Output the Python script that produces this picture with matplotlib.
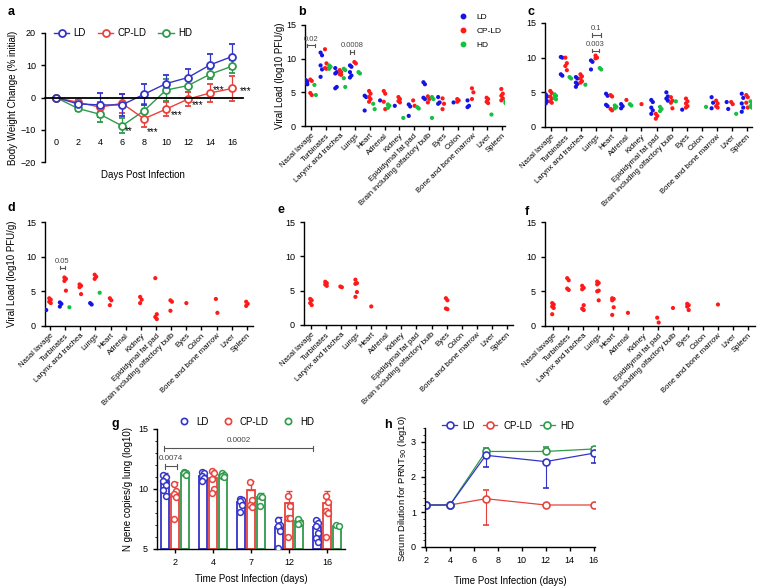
import matplotlib
matplotlib.use('Agg')
import matplotlib.pyplot as plt
import numpy as np
from matplotlib.lines import Line2D
from matplotlib.ticker import MultipleLocator

plt.rcParams['font.family'] = ['Liberation Sans', 'DejaVu Sans']
plt.rcParams['axes.linewidth'] = 1.0
plt.rcParams['xtick.major.width'] = 1.0
plt.rcParams['ytick.major.width'] = 1.0

# ---------------- data ----------------
groups = ["LD", "CP-LD", "HD"]

# panel a
days = [0, 2, 4, 6, 8, 10, 12, 14, 16]
a_LD = [0, -2.0, -2.3, -2.3, 1.0, 4.3, 6.2, 10.1, 12.7]
a_LD_err = [0, 0.5, 3.8, 3.5, 3.3, 2.7, 2.6, 3.4, 4.0]
a_CP = [0, -1.5, -3.0, -1.8, -6.6, -3.6, -0.5, 1.4, 2.8]
a_CP_err = [0, 0.8, 1.5, 3.0, 2.7, 2.1, 2.2, 2.8, 4.0]
a_HD = [0, -3.4, -5.2, -8.8, -4.1, 2.3, 3.7, 7.2, 9.7]
a_HD_err = [0, 0.8, 2.5, 2.3, 2.0, 3.5, 2.0, 1.5, 2.0]
a_star_x = [6.6, 8.8, 10.95, 12.9, 14.75, 17.2]
a_star_y = [-9.4, -9.8, -4.6, -1.4, 3.2, 2.9]
a_star_txt = ["**", "***", "***", "***", "***", "***"]

organs = ["Nasal lavage", "Turbinates", "Larynx and trachea", "Lungs", "Heart",
          "Adrenal", "Kidney", "Epididymal fat pad", "Brain including olfactory bulb",
          "Eyes", "Colon", "Bone and bone marrow", "Liver", "Spleen"]

b_LD = [[6.8, 6.6, 6.4, 6.2], [10.9, 10.5, 9.0, 8.4, 7.3], [8.6, 8.0, 7.8, 5.8, 5.6],
        [9.0, 8.8, 8.0, 7.5, 7.2], [4.5, 4.3, 2.3], [3.8], [3.0], [3.2, 2.9, 1.5],
        [6.5, 6.2, 4.2, 4.0], [4.3, 3.5, 3.3], [3.5], [3.8, 3.0, 2.8], [], []]
b_CP = [[6.9, 6.7, 4.9, 4.6], [11.4, 9.3, 8.6, 8.5], [8.3, 8.0, 7.7, 7.6], [9.5, 9.3],
        [5.2, 4.8, 4.3, 4.0, 3.6], [5.2, 4.8, 3.6, 2.5], [4.3, 4.0, 3.7, 3.5], [3.8, 3.0],
        [4.4, 4.0, 3.5], [4.1, 3.3, 2.5], [4.0, 3.8, 3.6], [5.6, 5.0, 4.0],
        [4.2, 4.0, 3.6, 3.4], [5.5, 4.8, 4.5, 4.1, 3.8]]
b_HD = [[6.1, 4.6], [9.0, 8.8, 8.5], [8.5, 8.3, 7.1, 5.8], [8.0, 7.8], [3.3, 2.5],
        [3.2, 3.0, 2.7], [1.2], [2.8, 2.6], [4.3, 4.0, 1.2], [], [], [], [1.7],
        [3.7, 3.5, 3.4]]
b_sig_x1 = [-0.3, 2.66]
b_sig_x2 = [0.27, 2.93]
b_sig_y = [12.0, 11.0]
b_sig_txt = ["0.02", "0.0008"]

c_LD = [[4.7, 4.4, 4.0, 3.7, 3.4], [10.1, 10.0, 7.6, 7.4], [7.2, 7.0, 6.4, 6.2, 5.8],
        [9.6, 9.4, 8.3], [4.8, 4.5, 3.2, 3.0], [3.3, 3.0, 2.7], [],
        [3.9, 3.6, 2.8, 2.4, 1.9], [5.0, 4.4, 4.1, 3.8], [2.5], [], [4.3, 3.5, 2.7],
        [3.6, 2.6], [4.8, 4.2, 3.4, 2.8, 2.2]]
c_CP = [[5.2, 4.9, 4.4, 4.1, 3.7, 3.5], [10.0, 9.2, 8.8, 8.2], [7.6, 7.3, 7.0, 6.6, 6.4],
        [10.3, 10.0, 9.9], [4.6, 4.4, 2.6, 2.4], [3.9], [3.3], [1.9, 1.6, 1.2],
        [4.3, 3.8, 3.5, 2.7], [4.1, 3.7, 3.4, 3.0, 2.8], [], [3.8, 3.4, 3.0, 2.8],
        [3.6, 3.3], [4.6, 4.3, 3.5, 2.8]]
c_HD = [[4.7, 4.5, 4.2, 4.0], [7.2, 7.0], [6.1], [8.5, 8.3], [3.1, 2.9, 2.7], [3.3, 3.1],
        [], [2.9, 2.6, 2.3], [3.7], [], [2.9], [], [1.9], [3.7, 3.3, 3.0, 2.8]]
c_sig_x1 = [2.69, 2.69]
c_sig_x2 = [3.33, 3.15]
c_sig_y = [13.3, 11.0]
c_sig_txt = ["0.1", "0.003"]

d_LD = [[2.4, 2.3], [3.4, 3.2, 2.8], [], [3.3, 3.1], [], [], [], [], [], [], [], [], [], []]
d_CP = [[4.0, 3.8, 3.5, 3.3], [7.0, 6.8, 6.5, 5.1], [6.0, 5.8, 5.6, 4.6], [7.4, 7.1, 6.8],
        [4.0, 3.7, 3.0], [], [4.2, 3.8, 3.3], [6.9, 1.7, 1.3, 1.0], [3.7, 3.5, 2.2],
        [3.3], [], [3.9, 1.9], [], [3.5, 3.2, 2.9]]
d_HD = [[], [2.7], [], [4.8], [], [], [], [], [], [], [], [], [], []]
d_sig_x1 = [0.65]
d_sig_x2 = [1.0]
d_sig_y = [8.4]
d_sig_txt = ["0.05"]

e_CP = [[3.8, 3.6, 3.2, 2.9], [6.3, 6.1, 5.9, 5.7], [5.6, 5.5], [6.6, 6.1, 6.0, 4.8, 4.1],
        [2.7], [], [], [], [], [3.9, 3.6, 2.4, 2.3], [], [], [], []]
f_CP = [[3.3, 3.1, 2.8, 2.6, 1.7], [6.9, 6.6, 5.4, 5.2], [5.8, 5.5, 5.3, 3.0, 2.5, 2.3],
        [6.4, 6.2, 6.0, 5.1, 5.0, 3.7], [4.0, 3.9, 3.7, 2.7, 1.6], [1.9], [],
        [1.2, 0.5], [2.6], [3.2, 3.0, 2.8, 2.3], [], [3.1], [], []]

# panel g
g_times = ["2", "4", "7", "12", "16"]
g_LD_pts = [[11.2, 11.0, 10.7, 10.3, 9.9, 9.4], [11.4, 11.3, 11.1, 10.9, 10.7],
            [9.2, 9.1, 9.0, 8.7, 8.1], [7.4, 7.0, 6.9, 6.5, 5.1],
            [7.4, 7.2, 6.9, 6.3, 5.9, 5.6]]
g_CP_pts = [[10.4, 9.8, 9.6, 9.3, 7.5], [11.5, 11.3, 10.8, 10.0, 9.7],
            [10.6, 9.1, 8.7, 8.5], [9.4, 8.6, 7.6, 7.6, 6.0], [9.4, 8.9, 8.2, 8.0, 6.0]]
g_HD_pts = [[11.4, 11.3, 11.3, 11.2], [11.3, 11.2, 11.1, 11.0], [9.4, 9.3, 8.6],
            [7.5, 7.2, 7.1], [7.0, 6.9]]
g_LD_mean = [10.7, 11.1, 8.9, 6.8, 6.8]
g_CP_mean = [9.6, 10.9, 9.9, 8.8, 8.8]
g_HD_mean = [11.3, 11.2, 9.3, 7.3, 6.9]
g_LD_sd = [0.6, 0.3, 0.4, 0.9, 0.7]
g_CP_sd = [1.0, 0.7, 0.8, 1.0, 1.0]
g_HD_sd = [0.1, 0.1, 0.4, 0.2, 0.1]
g_sig_x1 = [-0.27, -0.28]
g_sig_x2 = [0.06, 3.64]
g_sig_y = [11.9, 13.4]
g_sig_txt = ["0.0074", "0.0002"]

# panel h
h_days = [2, 4, 7, 12, 16]
h_LD = [1.2, 1.2, 2.62, 2.44, 2.68]
h_LD_lo = [0, 0, 0.32, 0.76, 0.28]
h_CP = [1.2, 1.2, 1.38, 1.2, 1.2]
h_CP_lo = [0, 0, 0.74, 0, 0]
h_CP_hi = [0, 0, 0.25, 0, 0]
h_HD = [1.2, 1.2, 2.73, 2.73, 2.80]
h_HD_hi = [0, 0, 0.11, 0.12, 0.05]

# ---------------- style ----------------
cL = ['#3434c8', '#e8423c', '#2f9a4c']          # line panels
cS = ['#1414e6', '#ff1a1a', '#16c040']          # scatter panels
W, H = 763, 588
fig = plt.figure(figsize=(W / 100, H / 100), dpi=100)

def add_ax(l, t, r, b):
    return fig.add_axes([l / W, 1 - b / H, (r - l) / W, (b - t) / H])

def clean(ax):
    ax.spines['top'].set_visible(False)
    ax.spines['right'].set_visible(False)

def letter(x, y, s):
    fig.text(x / W, 1 - y / H, s, fontsize=9, fontweight='bold', va='center', ha='left')

def bracket(ax, x1, x2, y, txt, cap=0.25, fs=5.5, dy=0.9):
    ax.plot([x1, x2], [y, y], color='#555555', lw=0.8)
    ax.plot([x1, x1], [y - cap, y + cap], color='#555555', lw=0.8)
    ax.plot([x2, x2], [y - cap, y + cap], color='#555555', lw=0.8)
    ax.text((x1 + x2) / 2, y + dy, txt, ha='center', va='center', fontsize=fs, color='#444444')

# ---------------- panel a ----------------
ax = add_ax(45, 33, 243, 162)
clean(ax)
for vals, err, c, lab in zip([a_HD, a_CP, a_LD], [a_HD_err, a_CP_err, a_LD_err],
                             [cL[2], cL[1], cL[0]], ["HD", "CP-LD", "LD"]):
    ax.errorbar(days, vals, yerr=err, color=c, marker='o', ms=5, mfc='white', mec=c,
                mew=1.3, lw=1.0, capsize=2, elinewidth=0.9, label=lab)
ax.set_xlim(-1, 17)
ax.set_ylim(-20, 20)
ax.spines['bottom'].set_position(('data', 0))
ax.spines['bottom'].set_linewidth(1.3)
ax.set_xticks(days)
ax.tick_params(axis='x', length=0, pad=29, labelsize=6.5)
ax.set_yticks([-20, -10, 0, 10, 20])
ax.tick_params(axis='y', length=3, labelsize=6.5)
for x, y, t in zip(a_star_x, a_star_y, a_star_txt):
    ax.text(x, y - 0.9, t, ha='center', va='center', fontsize=7)
ax.set_ylabel("Body Weight Change (% initial)", fontsize=7)
ax.yaxis.set_label_coords(-0.136, 0.5)
ax.set_xlabel("Days Post Infection", fontsize=7)
ax.xaxis.set_label_coords(0.495, -0.06)
h_a = [Line2D([0], [0], color=c, marker='o', ms=5, mfc='white', mec=c, mew=1.3, lw=1.0)
       for c in cL]
ax.legend(h_a, groups, loc='center left', bbox_to_anchor=(0.0, 1.0), ncol=3, frameon=False,
          fontsize=7, handlelength=1.6, columnspacing=1.2, handletextpad=0.45)
letter(8, 12, "a")

# ---------------- organ panels ----------------
def organ_panel(ax, series, offs, cols, xlim, ylabel=False):
    clean(ax)
    for ser, off, c in zip(series, offs, cols):
        for i, vals in enumerate(ser):
            n = len(vals)
            xs = [i + off + (0.05 if k % 2 else -0.05) * (1 if n > 1 else 0) for k in range(n)]
            ax.scatter(xs, vals, s=9, color=c, edgecolors='none', zorder=3)
    ax.set_xlim(*xlim)
    ax.set_ylim(0, 15)
    ax.set_yticks([0, 5, 10, 15])
    ax.set_xticks(range(len(organs)))
    ax.set_xticklabels(organs, rotation=45, ha='right', rotation_mode='anchor', fontsize=5.6)
    ax.tick_params(axis='x', length=3, pad=1.5)
    ax.tick_params(axis='y', length=3, labelsize=6.5)
    if ylabel:
        ax.set_ylabel("Viral Load (log10 PFU/g)", fontsize=7)

ax = add_ax(305, 25, 505, 126)
organ_panel(ax, [b_LD, b_CP, b_HD], [-0.3, 0.0, 0.28], cS, (-0.41, 13.2), ylabel=True)
ax.yaxis.set_label_coords(-0.1, 0.5)
for x1, x2, y, t in zip(b_sig_x1, b_sig_x2, b_sig_y, b_sig_txt):
    bracket(ax, x1, x2, y, t)
h_b = [Line2D([0], [0], color=c, marker='o', ms=3.2, lw=0) for c in cS]
ax.legend(h_b, groups, loc='upper left', bbox_to_anchor=(0.71, 1.19), frameon=False,
          fontsize=6, handletextpad=0.6, labelspacing=0.75)
letter(298, 12, "b")

ax = add_ax(545, 23, 752, 127)
organ_panel(ax, [c_LD, c_CP, c_HD], [-0.3, 0.0, 0.28], cS, (-0.4, 13.33))
for x1, x2, y, t in zip(c_sig_x1, c_sig_x2, c_sig_y, c_sig_txt):
    bracket(ax, x1, x2, y, t)
letter(527, 12, "c")

ax = add_ax(45, 222, 253, 326)
organ_panel(ax, [d_LD, d_CP, d_HD], [-0.3, 0.0, 0.28], cS, (-0.33, 13.4), ylabel=True)
ax.yaxis.set_label_coords(-0.135, 0.5)
for x1, x2, y, t in zip(d_sig_x1, d_sig_x2, d_sig_y, d_sig_txt):
    bracket(ax, x1, x2, y, t)
letter(8, 208, "d")

ax = add_ax(304, 222, 513, 325)
organ_panel(ax, [e_CP], [0.0], [cS[1]], (-0.46, 13.4))
letter(278, 210, "e")

ax = add_ax(545, 222, 755, 326)
organ_panel(ax, [f_CP], [0.0], [cS[1]], (-0.53, 13.47))
letter(525, 212, "f")

# ---------------- panel g ----------------
ax = add_ax(157, 429, 345, 549)
clean(ax)
xg = np.arange(len(g_times))
bw = 0.22
for j, (pts, mean, sd, c) in enumerate(zip([g_LD_pts, g_CP_pts, g_HD_pts],
                                           [g_LD_mean, g_CP_mean, g_HD_mean],
                                           [g_LD_sd, g_CP_sd, g_HD_sd], cL)):
    off = (j - 1) * 0.265
    ax.bar(xg + off, np.array(mean) - 5, bottom=5, width=bw, facecolor='white',
           edgecolor=c, linewidth=1.3, zorder=2)
    ax.errorbar(xg + off, mean, yerr=[np.zeros(len(sd)), sd], fmt='none', ecolor=c,
                elinewidth=1.0, capsize=2, zorder=2)
    for i, vals in enumerate(pts):
        xs = [i + off + (0.035 if k % 2 else -0.035) for k in range(len(vals))]
        ax.plot(xs, vals, 'o', ms=4.2, mfc='white', mec=c, mew=1.1, lw=0, zorder=3)
ax.set_xlim(-0.47, 4.47)
ax.set_ylim(5, 15)
ax.set_yticks([5, 10, 15])
ax.yaxis.set_minor_locator(MultipleLocator(1))
ax.set_xticks(xg)
ax.set_xticklabels(g_times)
ax.tick_params(axis='both', length=3, labelsize=6.5)
ax.tick_params(axis='y', which='minor', length=1.8)
for x1, x2, y, t in zip(g_sig_x1, g_sig_x2, g_sig_y, g_sig_txt):
    bracket(ax, x1, x2, y, t, cap=0.2, fs=5.8, dy=0.6)
ax.set_ylabel("N gene copies/g lung (log10)", fontsize=7)
ax.yaxis.set_label_coords(-0.128, 0.5)
ax.set_xlabel("Time Post Infection (days)", fontsize=7)
ax.xaxis.set_label_coords(0.5, -0.21)
h_g = [Line2D([0], [0], color=c, marker='o', ms=4.5, mfc='white', mec=c, mew=1.2, lw=0)
       for c in cL]
ax.legend(h_g, groups, loc='center left', bbox_to_anchor=(0.07, 1.06), ncol=3, frameon=False,
          fontsize=7, handlelength=1.0, handletextpad=0.75, columnspacing=1.5)
letter(112, 424, "g")

# ---------------- panel h ----------------
ax = add_ax(425, 428, 595, 547)
clean(ax)
ax.errorbar(h_days, h_CP, yerr=[h_CP_lo, h_CP_hi], color=cL[1], marker='o', ms=5,
            mfc='white', mec=cL[1], mew=1.2, lw=0.9, capsize=2, elinewidth=0.8)
ax.errorbar(h_days, h_HD, yerr=[np.zeros(5), h_HD_hi], color=cL[2], marker='o', ms=5,
            mfc='white', mec=cL[2], mew=1.2, lw=0.9, capsize=2, elinewidth=0.8)
ax.errorbar(h_days, h_LD, yerr=[h_LD_lo, np.zeros(5)], color=cL[0], marker='o', ms=5,
            mfc='white', mec=cL[0], mew=1.2, lw=0.9, capsize=2, elinewidth=0.8)
ax.set_xlim(1.92, 16.12)
ax.set_ylim(0, 3.4)
ax.set_xticks(range(2, 17, 2))
ax.set_yticks([0, 1, 2, 3])
ax.yaxis.set_minor_locator(MultipleLocator(0.2))
ax.tick_params(axis='both', length=3, labelsize=6.5)
ax.tick_params(axis='y', which='minor', length=1.8)
ax.set_ylabel("Serum Dilution for PRNT$_{90}$ (log10)", fontsize=6.8)
ax.yaxis.set_label_coords(-0.092, 0.49)
ax.set_xlabel("Time Post Infection (days)", fontsize=7)
ax.xaxis.set_label_coords(0.5, -0.24)
h_h = [Line2D([0], [0], color=c, marker='o', ms=5, mfc='white', mec=c, mew=1.2, lw=0.9)
       for c in cL]
ax.legend(h_h, groups, loc='center left', bbox_to_anchor=(0.05, 1.02), ncol=3, frameon=False,
          fontsize=7, handlelength=1.5, handletextpad=0.6, columnspacing=0.8)
letter(384, 425, "h")

fig.savefig("out.png", dpi=100)
